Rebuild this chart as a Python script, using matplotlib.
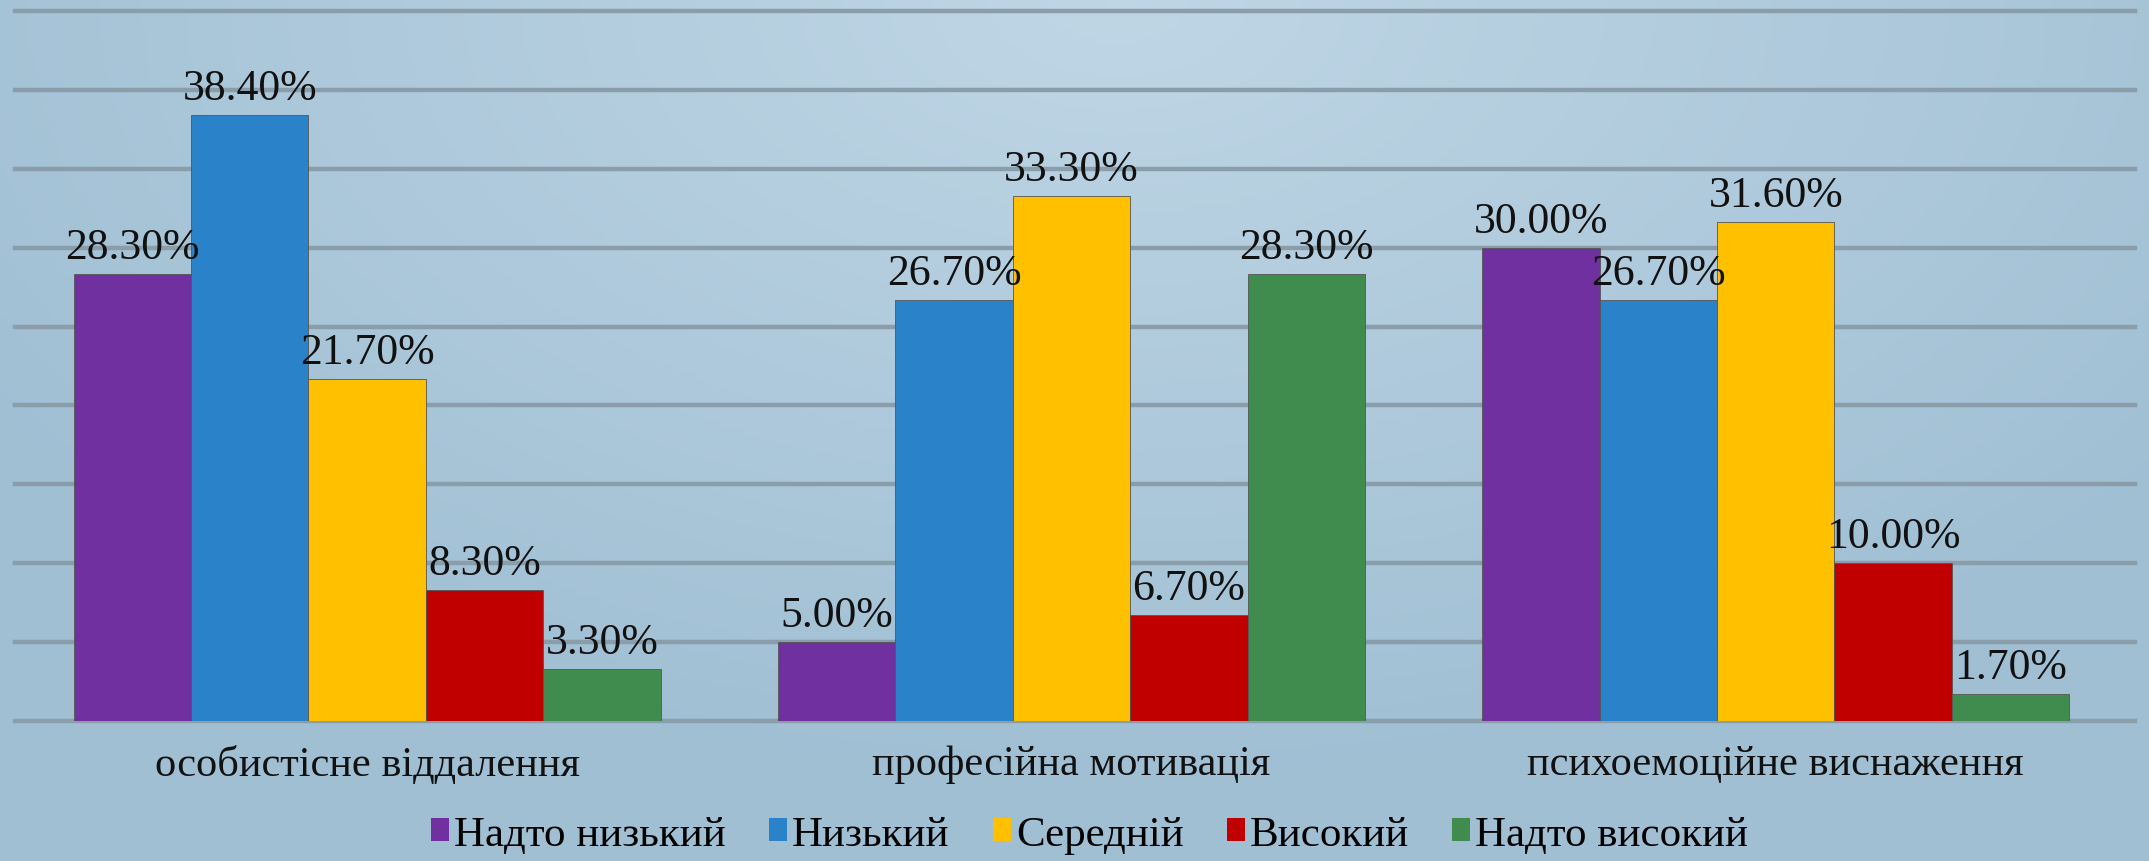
import numpy as np
import matplotlib
matplotlib.use("Agg")
import matplotlib.pyplot as plt
from matplotlib.patches import Patch

categories = ["особистісне віддалення", "професійна мотивація", "психоемоційне виснаження"]
series_names = ["Надто низький", "Низький", "Середній", "Високий", "Надто високий"]
very_low = [28.3, 5.0, 30.0]
low = [38.4, 26.7, 26.7]
medium = [21.7, 33.3, 31.6]
high = [8.3, 6.7, 10.0]
very_high = [3.3, 28.3, 1.7]
series_values = [very_low, low, medium, high, very_high]
colors = ["#7030a0", "#2a82c8", "#ffc000", "#c00000", "#3f8c4e"]

plt.rcParams["font.family"] = ["Liberation Serif", "DejaVu Serif"]

W, H = 2149, 862
fig = plt.figure(figsize=(W / 100, H / 100), dpi=100)

# soft blue gradient background
bg = fig.add_axes([0, 0, 1, 1], zorder=-10)
yy, xx = np.mgrid[0:1:200j, 0:1:500j]
d = np.sqrt(((xx - 0.52) * 1.6) ** 2 + (yy * 1.1) ** 2)
d = np.clip(d, 0, 1)
top = np.array([0.75, 0.84, 0.90])
edge = np.array([0.63, 0.75, 0.83])
img = top[None, None, :] * (1 - d[..., None]) + edge[None, None, :] * d[..., None]
bg.imshow(img, aspect="auto", extent=[0, 1, 0, 1], origin="upper")
bg.axis("off")

ax = fig.add_axes([15 / W, 1 - 722 / H, 2120 / W, 710 / H])
ax.set_facecolor("none")

x = np.arange(len(categories))
width = 1 / 6
for k, (name, vals, c) in enumerate(zip(series_names, series_values, colors)):
    pos = x + (k - 2) * width
    bars = ax.bar(pos, vals, width, color=c, edgecolor="#555555", linewidth=0.6,
                  label=name, zorder=3)
    for b, v in zip(bars, vals):
        ax.text(b.get_x() + b.get_width() / 2, v + 0.45, f"{v:.2f}%",
                ha="center", va="bottom", fontsize=31.5, color="#111111", zorder=4)

ax.set_ylim(0, 45)
ax.set_xlim(-0.5, 2.51)
ax.set_yticks(np.arange(0, 46, 5))
ax.yaxis.grid(True, color="#8a9dab", linewidth=3.2, zorder=1)
for gl in ax.yaxis.get_gridlines():
    gl.set_clip_on(False)
ax.set_axisbelow(True)
ax.tick_params(axis="y", left=False, labelleft=False)
ax.tick_params(axis="x", length=0, pad=17)
ax.set_xticks(x)
ax.set_xticklabels(categories, fontsize=30.5, color="#111111")
for s in ax.spines.values():
    s.set_visible(False)

handles = [Patch(facecolor=c, edgecolor="none") for c in colors]
fig.legend(handles, series_names, loc="center", bbox_to_anchor=(0.507, 1 - 836 / H),
           ncol=5, frameon=False, fontsize=31, handlelength=0.42, handleheight=0.45,
           handletextpad=0.12, columnspacing=1.0, borderaxespad=0)

fig.savefig("out.png", dpi=100)
